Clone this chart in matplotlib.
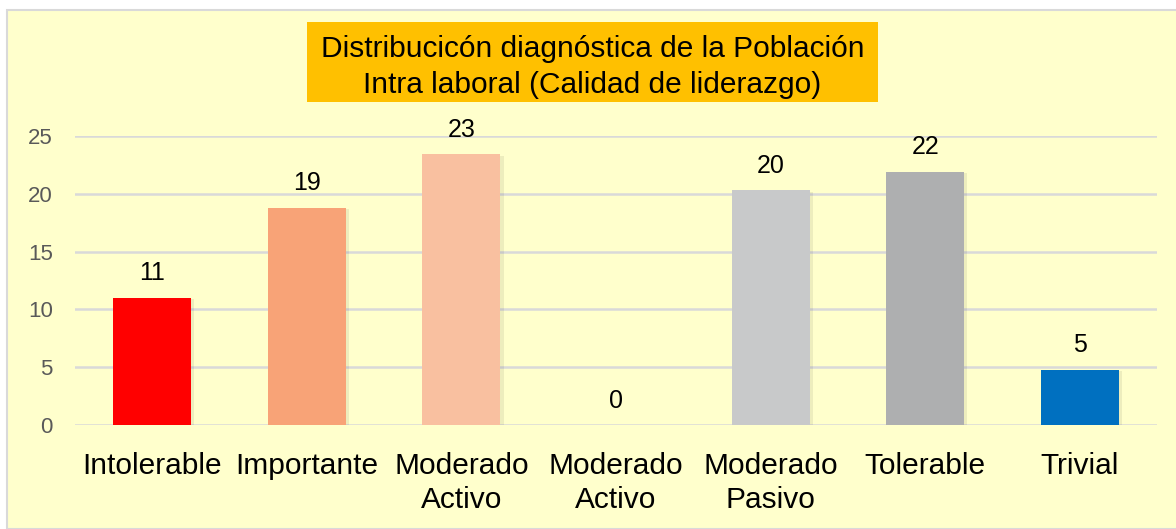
import matplotlib
matplotlib.use("Agg")
import matplotlib.pyplot as plt
from matplotlib.patches import Rectangle

categories = ["Intolerable", "Importante", "Moderado\nActivo", "Moderado\nActivo",
              "Moderado\nPasivo", "Tolerable", "Trivial"]
values = [11.0, 18.8, 23.4, 0.0, 20.3, 21.9, 4.8]
value_labels = ["11", "19", "23", "0", "20", "22", "5"]
colors = ["#FF0000", "#F8A377", "#F9C0A0", "#C8C8C8", "#C8C9CA", "#AEAFB0", "#0070C0"]
yticks = [0, 5, 10, 15, 20, 25]
title_lines = ["Distribucicón diagnóstica de la Población",
               "Intra laboral (Calidad de liderazgo)"]

FONT = "Liberation Sans"
W, H = 1176, 529
fig = plt.figure(figsize=(W / 100, H / 100), dpi=100)
fig.patch.set_facecolor("white")

# chart area background
bg = Rectangle((7 / W, 0), 1 - 7 / W + 0.01, (H - 10) / H,
               transform=fig.transFigure, facecolor="#FFFFCC",
               edgecolor="#D9D9D9", lw=1.5, zorder=-10)
fig.add_artist(bg)

# title box
tb = Rectangle((307 / W, 1 - 102 / H), (878 - 307) / W, 80 / H,
               transform=fig.transFigure, facecolor="#FFC000",
               edgecolor="none", zorder=-5)
fig.add_artist(tb)
for line, base_y in zip(title_lines, [57, 93]):
    fig.text(592.5 / W, 1 - base_y / H, line, ha="center", va="baseline",
             fontsize=21.5, color="#000000", family=FONT, zorder=5)

ax = fig.add_axes([75 / W, 1 - 425 / H, (1157 - 75) / W, (425 - 136) / H])
ax.set_zorder(1)
ax.set_facecolor("none")
x = list(range(len(categories)))
# subtle shadows
for xi, v in zip(x, values):
    if v > 0:
        ax.bar(xi + 0.02, v, width=0.505, bottom=-0.12, color="#000000", alpha=0.07,
               zorder=2, linewidth=0)
ax.bar(x, values, width=0.505, color=colors, zorder=3, linewidth=0)

for xi, v, lab in zip(x, values, value_labels):
    ax.annotate(lab, (xi, v), xytext=(0, 12.5), textcoords="offset points",
                ha="center", va="baseline", fontsize=18, color="#000000",
                family=FONT, annotation_clip=False)

ax.set_xlim(-0.5, len(categories) - 0.5)
ax.set_ylim(0, 25)
ax.set_yticks(yticks)
ax.set_xticks(x)
ax.set_xticklabels(categories, fontsize=21.5, color="#000000",
                   linespacing=1.28, family=FONT)
for lbl in ax.get_yticklabels():
    lbl.set_fontsize(16)
    lbl.set_color("#595959")
    lbl.set_family(FONT)
ax.tick_params(axis="y", length=0, pad=16)
ax.tick_params(axis="x", length=0, pad=19.5)
ax.grid(axis="y", color="#D9D9D9", lw=1.8, zorder=1)
ax.set_axisbelow(True)
for s in ax.spines.values():
    s.set_visible(False)

fig.savefig("out.png", dpi=100, facecolor=fig.get_facecolor())
